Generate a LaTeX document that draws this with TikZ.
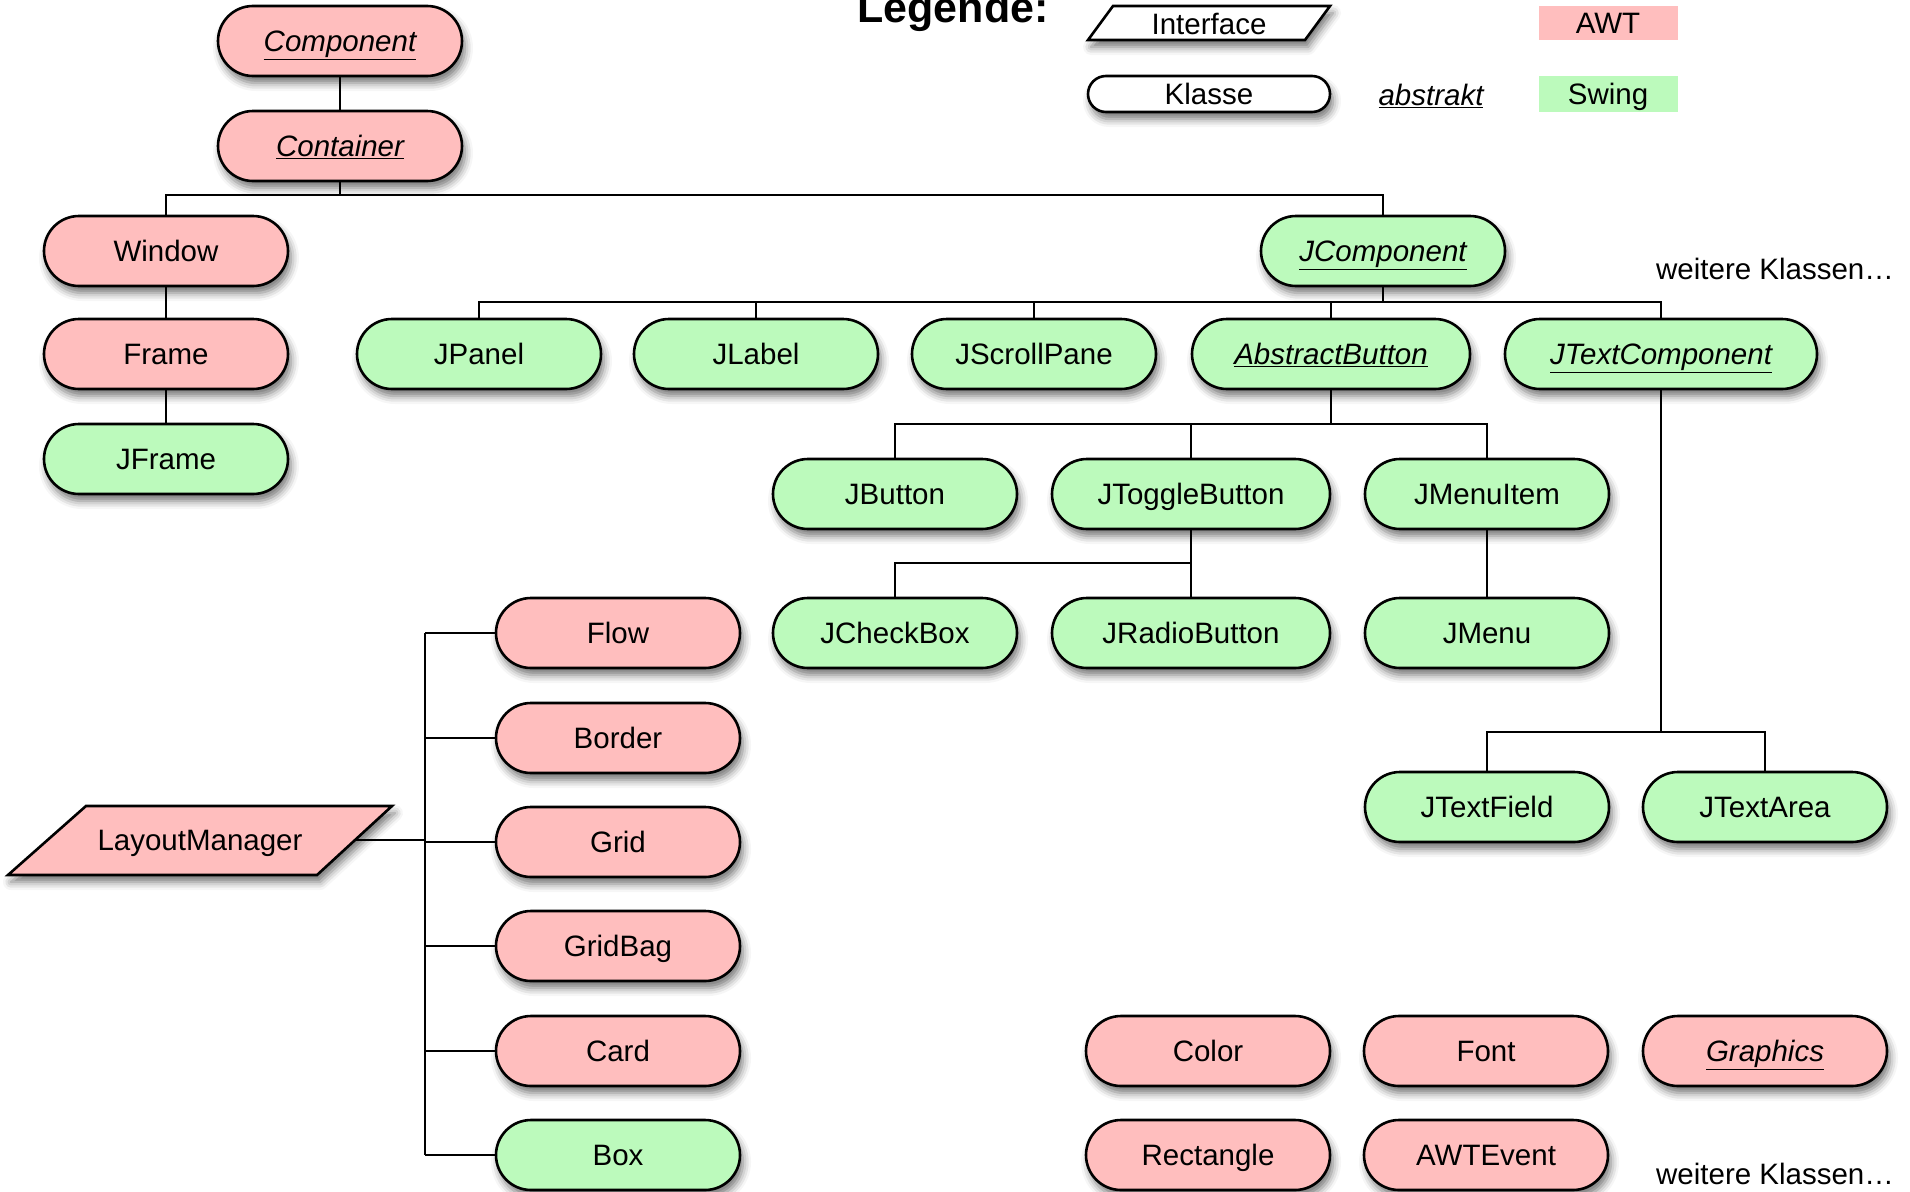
\documentclass[tikz,border=0pt]{standalone}
\usepackage{fontspec}
\setmainfont{Liberation Sans}
\usetikzlibrary{shapes.misc,shadows.blur}
\definecolor{awt}{RGB}{255,190,190}
\definecolor{swing}{RGB}{188,250,188}
\newcommand{\absname}[1]{\textit{\underline{#1}}}
\begin{document}
\begin{tikzpicture}[x=1pt,y=-1pt,
  txt/.style={font=\fontsize{29.5}{34}\selectfont, text height=21pt, text depth=0pt},
  shad/.style={blur shadow={shadow xshift=3pt, shadow yshift=-7pt, shadow blur radius=8pt, shadow opacity=55}},
  cls/.style={rounded rectangle, draw=black, line width=2.6pt, minimum width=244pt, minimum height=70pt, inner sep=0pt, txt, shad},
  awtc/.style={cls, fill=awt},
  swc/.style={cls, fill=swing},
  wide/.style={minimum width=278pt},
  wider/.style={minimum width=312pt},
  conn/.style={line width=2.2pt},
  ifc/.style={draw=black, line width=2.6pt, line join=miter, shad}]
\useasboundingbox (0,0) rectangle (1910,1191);

% ---------- legend ----------
\node[anchor=base, font=\fontsize{43}{48}\selectfont\bfseries] (legtitle) at (953,22) {Legende:};
\draw[ifc, fill=white] (1088,40) -- (1113,6) -- (1330,6) -- (1305,40) -- cycle;
\node[txt] (leginterface) at (1209,24) {Interface};
\node[cls, fill=white, minimum width=242pt, minimum height=36pt] (legklasse) at (1209,94) {Klasse};
\node[txt] (legabstrakt) at (1431,95) {\absname{abstrakt}};
\node[txt, fill=awt, minimum width=139pt, minimum height=34pt, inner sep=0pt] (legawt) at (1608,23) {AWT};
\node[txt, fill=swing, minimum width=139pt, minimum height=36pt, inner sep=0pt] (legswing) at (1608,94) {Swing};

% ---------- AWT / containers ----------
\node[awtc] (comp) at (340,41) {\absname{Component}};
\node[awtc] (cont) at (340,146) {\absname{Container}};
\node[awtc] (window) at (166,251) {Window};
\node[awtc] (frame) at (166,354) {Frame};
\node[swc] (jframe) at (166,459) {JFrame};

% ---------- Swing components ----------
\node[swc] (jcomp) at (1383,251) {\absname{JComponent}};
\node[txt] (more1) at (1775,269) {weitere Klassen…};
\node[swc] (jpanel) at (479,354) {JPanel};
\node[swc] (jlabel) at (756,354) {JLabel};
\node[swc] (jscroll) at (1034,354) {JScrollPane};
\node[swc, wide] (absbtn) at (1331,354) {\absname{AbstractButton}};
\node[swc, wider] (jtextcomp) at (1661,354) {\absname{JTextComponent}};
\node[swc] (jbutton) at (895,494) {JButton};
\node[swc, wide] (jtoggle) at (1191,494) {JToggleButton};
\node[swc] (jmenuitem) at (1487,494) {JMenuItem};
\node[swc] (jcheck) at (895,633) {JCheckBox};
\node[swc, wide] (jradio) at (1191,633) {JRadioButton};
\node[swc] (jmenu) at (1487,633) {JMenu};
\node[swc] (jtextfield) at (1487,807) {JTextField};
\node[swc] (jtextarea) at (1765,807) {JTextArea};

% ---------- Layout managers ----------
\draw[ifc, fill=awt] (8,875) -- (86,806) -- (392,806) -- (317,875) -- cycle;
\node[txt] (lm) at (200,840) {LayoutManager};
\coordinate (lmr) at (354,840);
\node[awtc] (flow) at (618,633) {Flow};
\node[awtc] (border) at (618,738) {Border};
\node[awtc] (grid) at (618,842) {Grid};
\node[awtc] (gridbag) at (618,946) {GridBag};
\node[awtc] (card) at (618,1051) {Card};
\node[swc] (box) at (618,1155) {Box};

% ---------- other AWT classes ----------
\node[awtc] (color) at (1208,1051) {Color};
\node[awtc] (font) at (1486,1051) {Font};
\node[awtc] (graphics) at (1765,1051) {\absname{Graphics}};
\node[awtc] (rect) at (1208,1155) {Rectangle};
\node[awtc] (awtevent) at (1486,1155) {AWTEvent};
\node[txt] (more2) at (1775,1174) {weitere Klassen…};

% ---------- connectors ----------
\coordinate (h1) at (0,195);
\coordinate (h2) at (0,302);
\coordinate (h3) at (0,424);
\coordinate (h4) at (0,563);
\coordinate (h5) at (0,732);
\coordinate (v1) at (425,0);

\draw[conn] (comp.south) -- (cont.north);
\draw[conn] (cont.south) -- (cont.south |- h1);
\draw[conn] (window.north) -- (window.north |- h1) -| (jcomp.north);
\draw[conn] (window.south) -- (frame.north);
\draw[conn] (frame.south) -- (jframe.north);

\draw[conn] (jcomp.south) -- (jcomp.south |- h2);
\draw[conn] (jpanel.north) -- (jpanel.north |- h2) -| (jtextcomp.north);
\draw[conn] (jlabel.north) -- (jlabel.north |- h2);
\draw[conn] (jscroll.north) -- (jscroll.north |- h2);
\draw[conn] (absbtn.north) -- (absbtn.north |- h2);

\draw[conn] (absbtn.south) -- (absbtn.south |- h3);
\draw[conn] (jbutton.north) -- (jbutton.north |- h3) -| (jmenuitem.north);
\draw[conn] (jtoggle.north) -- (jtoggle.north |- h3);

\draw[conn] (jtoggle.south) -- (jtoggle.south |- h4);
\draw[conn] (jcheck.north) -- (jcheck.north |- h4) -| (jradio.north);
\draw[conn] (jmenuitem.south) -- (jmenu.north);

\draw[conn] (jtextcomp.south) -- (jtextcomp.south |- h5);
\draw[conn] (jtextfield.north) -- (jtextfield.north |- h5) -| (jtextarea.north);

\draw[conn] (lmr) -- (lmr -| v1);
\draw[conn] (flow.west -| v1) -- (box.west -| v1);
\foreach \n in {flow,border,grid,gridbag,card,box}
  \draw[conn] (\n.west -| v1) -- (\n.west);
\end{tikzpicture}
\end{document}
